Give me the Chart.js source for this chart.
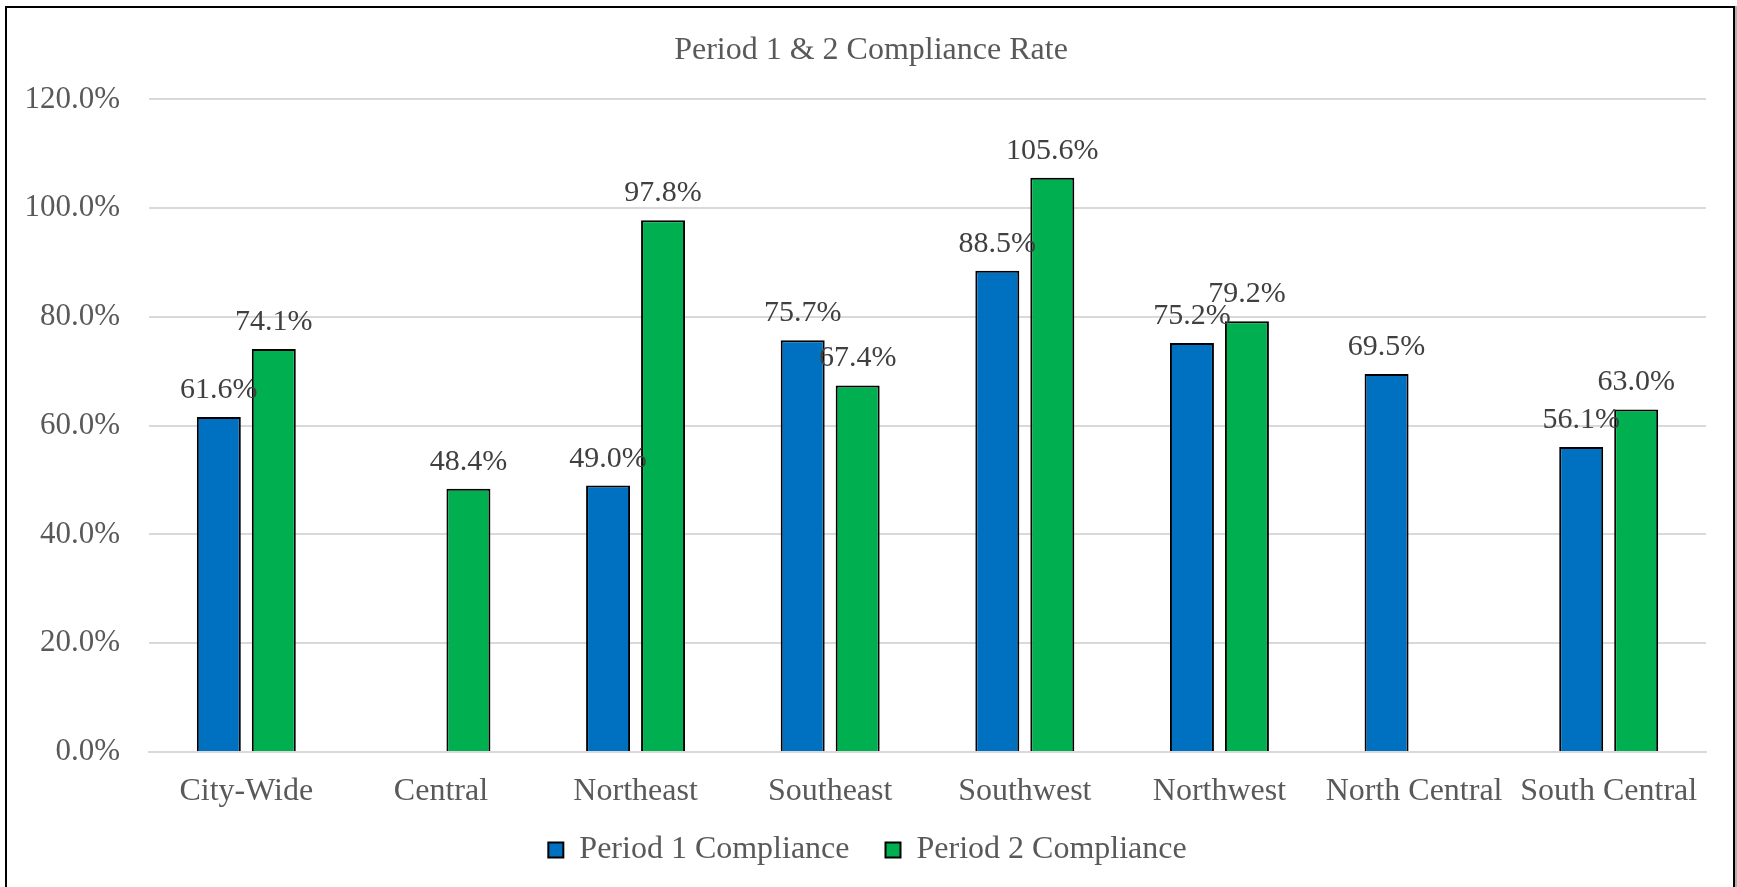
<!DOCTYPE html>
<html>
<head>
<meta charset="utf-8">
<title>Period 1 & 2 Compliance Rate</title>
<script src="https://cdn.jsdelivr.net/npm/chart.js@4"></script>
<style>
  html, body { margin: 0; padding: 0; background: #fff; overflow: hidden; }
  #wrap { position: relative; width: 1737px; height: 887px; }
  #frame {
    position: absolute; left: 5px; top: 6px; width: 1730px; height: 900px;
    box-sizing: border-box; border: 2px solid #000; box-shadow: 2px 0 0 #b0b0b0;
    pointer-events: none;
  }
</style>
</head>
<body>
<div id="wrap">
  <canvas id="chart" width="1737" height="887"></canvas>
  <div id="frame"></div>
</div>
<script>
var regions = ['City-Wide', 'Central', 'Northeast', 'Southeast', 'Southwest', 'Northwest', 'North Central', 'South Central'];
var period1 = [61.6, null, 49.0, 75.7, 88.5, 75.2, 69.5, 56.1];
var period2 = [74.1, 48.4, 97.8, 67.4, 105.6, 79.2, null, 63.0];
var yTicks = [0, 20, 40, 60, 80, 100, 120];

Chart.defaults.font.family = '"Liberation Serif", "Times New Roman", serif';
Chart.defaults.color = '#595959';

// draws the value above every bar
var barLabels = {
    id: 'barLabels',
    afterDatasetsDraw: function(chart) {
        var ctx = chart.ctx;
        ctx.save();
        ctx.font = '30px "Liberation Serif", "Times New Roman", serif';
        ctx.fillStyle = '#404040';
        ctx.textAlign = 'center';
        ctx.textBaseline = 'alphabetic';
        chart.data.datasets.forEach(function(ds, i) {
            var meta = chart.getDatasetMeta(i);
            meta.data.forEach(function(bar, j) {
                var v = ds.data[j];
                if (v === null || v === undefined) return;
                ctx.fillText(v.toFixed(1) + '%', bar.x, bar.y - 19);
            });
        });
        ctx.restore();
    }
};

// title and legend sit a little right of the canvas centre in the original,
// and the legend a bit higher than the layout puts it
var shiftBlocks = {
    id: 'shiftBlocks',
    afterLayout: function(chart) {
        if (chart.legend) {
            chart.legend.left = 29;
            chart.legend.top = 798;
        }
        if (chart.titleBlock) chart.titleBlock.left = 36;
    }
};

var ctx = document.getElementById('chart').getContext('2d');
new Chart(ctx, {
    type: 'bar',
    data: {
        labels: regions,
        datasets: [
            {
                label: 'Period 1 Compliance',
                data: period1,
                backgroundColor: '#0070C0',
                borderColor: '#000000',
                borderWidth: 2,
                categoryPercentage: 0.565,
                barPercentage: 0.8
            },
            {
                label: 'Period 2 Compliance',
                data: period2,
                backgroundColor: '#00B050',
                borderColor: '#000000',
                borderWidth: 2,
                categoryPercentage: 0.565,
                barPercentage: 0.8
            }
        ]
    },
    options: {
        responsive: false,
        animation: false,
        layout: { padding: { left: 0, right: 31, top: 0, bottom: 0 } },
        plugins: {
            title: {
                display: true,
                text: 'Period 1 & 2 Compliance Rate',
                font: { size: 32, weight: 'normal' },
                color: '#595959',
                padding: { top: 31, bottom: 30 }
            },
            legend: {
                position: 'bottom',
                labels: {
                    font: { size: 32 },
                    color: '#595959',
                    boxWidth: 15,
                    boxHeight: 15,
                    padding: 36
                }
            },
            tooltip: { enabled: false }
        },
        scales: {
            x: {
                grid: { display: false, drawTicks: false },
                border: { display: true, color: '#D9D9D9', width: 2 },
                ticks: { font: { size: 32 }, color: '#595959', padding: 20, maxRotation: 0, autoSkip: false },
                afterFit: function(scale) { scale.height = 57; }
            },
            y: {
                min: 0,
                max: 120,
                afterBuildTicks: function(scale) {
                    scale.ticks = yTicks.map(function(v) { return { value: v }; });
                },
                grid: { color: '#D9D9D9', lineWidth: 2, drawTicks: false },
                border: { display: false },
                ticks: {
                    font: { size: 31 },
                    color: '#595959',
                    padding: 29,
                    callback: function(v) { return v.toFixed(1) + '%'; }
                },
                afterFit: function(scale) { scale.width = 149; }
            }
        }
    },
    plugins: [barLabels, shiftBlocks]
});
</script>
</body>
</html>
